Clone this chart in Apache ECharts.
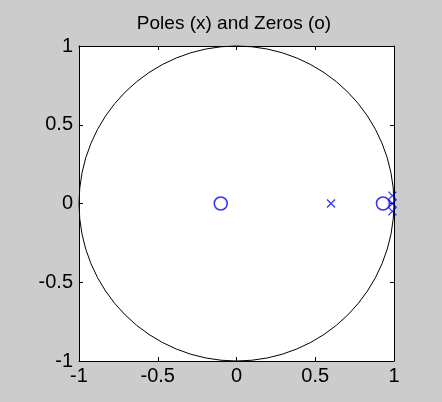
<!DOCTYPE html>
<html><head><meta charset="utf-8">
<script src="https://cdn.jsdelivr.net/npm/echarts@6/dist/echarts.min.js"></script>
<style>html,body{margin:0;padding:0;background:#cccccc;}#c{width:442px;height:402px;}</style>
</head><body><div id="c"></div>
<script>
var titleText = 'Poles (x) and Zeros (o)';
var zeros = [[-0.1, 0], [0.93, 0]];
var poles = [[0.6, 0], [0.99, 0.05], [0.99, 0], [0.99, -0.05]];
var axisMin = -1, axisMax = 1, axisStep = 0.5;

var chart = echarts.init(document.getElementById('c'));
var font = '"Liberation Sans", Arial, sans-serif';
function mkAxis(type, pos, showLabel) {
  return {
    type: 'value', position: pos, min: axisMin, max: axisMax, interval: axisStep,
    axisLine: {show: true, onZero: false, lineStyle: {color: '#000', width: 1}},
    axisTick: {show: true, inside: true, length: 4, lineStyle: {color: '#000'}},
    splitLine: {show: false},
    axisLabel: {show: showLabel, color: '#000', fontSize: 20, fontFamily: font, margin: type === 'x' ? 5 : 6,
      formatter: function (v) { return String(v); }}
  };
}
chart.setOption({
  backgroundColor: '#cccccc',
  animation: false,
  title: {text: titleText, left: 234, textAlign: 'center', top: 14, padding: 0,
    textStyle: {fontSize: 19, fontWeight: 'normal', color: '#000', fontFamily: font}},
  grid: {left: 79, top: 46, width: 315, height: 315, show: true, backgroundColor: '#ffffff', borderColor: '#000', borderWidth: 0},
  xAxis: [mkAxis('x', 'bottom', true), mkAxis('x', 'top', false)],
  yAxis: [mkAxis('y', 'left', true), mkAxis('y', 'right', false)],
  polar: {center: [236.5, 203.5], radius: 157.5},
  angleAxis: {type: 'value', min: 0, max: 360, axisLine: {show: true, lineStyle: {color: '#000', width: 1}},
    axisTick: {show: false}, axisLabel: {show: false}, splitLine: {show: false}, z: 1},
  radiusAxis: {type: 'value', min: 0, max: 1, show: false, axisLine: {show: false}, axisTick: {show: false}, axisLabel: {show: false}, splitLine: {show: false}},
  series: [
    {type: 'scatter', xAxisIndex: 0, yAxisIndex: 0, data: zeros, symbol: 'circle', symbolSize: 13, clip: false, z: 5,
      itemStyle: {color: 'rgba(0,0,0,0)', borderColor: '#0000ff', borderWidth: 1.6}},
    {type: 'scatter', xAxisIndex: 0, yAxisIndex: 0, data: poles, symbol: 'path://M0,0L10,10M10,0L0,10', symbolSize: 8, clip: false, z: 6,
      itemStyle: {color: 'rgba(0,0,0,0)', borderColor: '#0000ff', borderWidth: 1.3}}
  ]
});
</script></body></html>
